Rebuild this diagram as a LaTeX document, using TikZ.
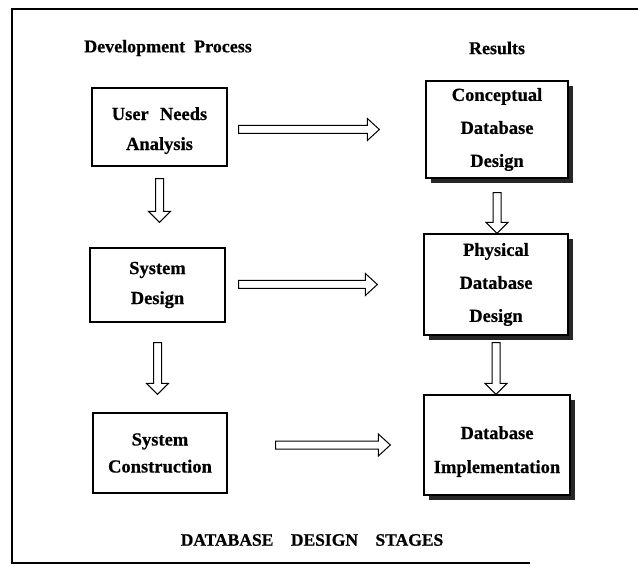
\documentclass[tikz,border=0pt]{standalone}
\usepackage{fontspec}
\setmainfont{Liberation Serif}[BoldFeatures={FakeBold=0.6}]
\usetikzlibrary{calc,shadows}

\tikzset{
  procbox/.style={draw, line width=1.3pt, minimum width=135pt, align=center,
    inner sep=0pt, font=\bfseries\fontsize{18.5}{30}\selectfont},
  resbox/.style={procbox, fill=white, font=\bfseries\fontsize{18.5}{33}\selectfont,
    drop shadow={shadow xshift=5pt, shadow yshift=-5pt, fill=black!85, opacity=1}},
  heading/.style={font=\bfseries\fontsize{18}{20}\selectfont},
  caption/.style={font=\bfseries\fontsize{17.5}{20}\selectfont},
  % hollow block arrow pointing right: #1 gap after the start node, #2 gap before the target
  hollowright/.style 2 args={line width=1pt, to path={
    let \p1=(\tikztostart.east), \p2=(\tikztotarget.west),
        \n1={\x1+#1}, \n2={\x2-#2}, \n3={\y2} in
    (\n1,\n3+4) -- (\n2-12,\n3+4) -- (\n2-12,\n3+11) -- (\n2,\n3)
    -- (\n2-12,\n3-11) -- (\n2-12,\n3-4) -- (\n1,\n3-4) -- cycle}},
  % hollow block arrow pointing down
  hollowdown/.style 2 args={line width=1pt, to path={
    let \p1=(\tikztostart.south), \p2=(\tikztotarget.north),
        \n1={\y1-#1}, \n2={\y2+#2}, \n3={\x1} in
    (\n3-4,\n1) -- (\n3-4,\n2+11) -- (\n3-11,\n2+11) -- (\n3,\n2)
    -- (\n3+11,\n2+11) -- (\n3+4,\n2+11) -- (\n3+4,\n1) -- cycle}},
}

\begin{document}
\begin{tikzpicture}[x=1pt,y=1pt]
\useasboundingbox (0,0) rectangle (638,566);

% open frame
\draw[line width=1.2pt] (638,557) -- (12,557) -- (12,3) -- (530,3);

% column headings
\node[heading] (hdev) at (168,518) {Development\hspace{0.5em}Process};
\node[heading] (hres) at (497,518) {Results};

% development process
\node[procbox, minimum height=78pt] (una) at (159.5,439)
  {\rule{0pt}{20pt}User\hspace{0.6em}Needs\\Analysis};
\node[procbox, minimum height=74pt] (sd) at (157.5,281) {System\\Design};
\node[procbox, minimum width=134pt, minimum height=80pt,
      font=\bfseries\fontsize{18.5}{27}\selectfont] (sc) at (160,113) {System\\Construction};

% results
\node[resbox, minimum width=142pt, minimum height=97pt] (cdd) at (497,436.5)
  {Conceptual\\Database\\Design};
\node[resbox, minimum width=144pt, minimum height=101pt] (pdd) at (496,281.5)
  {Physical\\Database\\Design};
\node[resbox, minimum width=146pt, minimum height=100pt,
      font=\bfseries\fontsize{18.5}{34}\selectfont] (dbi) at (497,121)
  {\rule{0pt}{26pt}Database\\Implementation};

% arrows
\draw[hollowright={11}{46}] (una) to (cdd);
\draw[hollowright={13}{46}] (sd) to (pdd);
\draw[hollowright={48}{33}] (sc) to (dbi);
\draw[hollowdown={12}{25}] (una) to (sd);
\draw[hollowdown={20}{18}] (sd) to (sc);
\draw[hollowdown={14}{0}] (cdd) to (pdd);
\draw[hollowdown={7}{0}] (pdd) to (dbi);

% caption
\node[caption] (cap) at (312,26) {DATABASE\hspace{1em}DESIGN\hspace{1em}STAGES};
\end{tikzpicture}
\end{document}
